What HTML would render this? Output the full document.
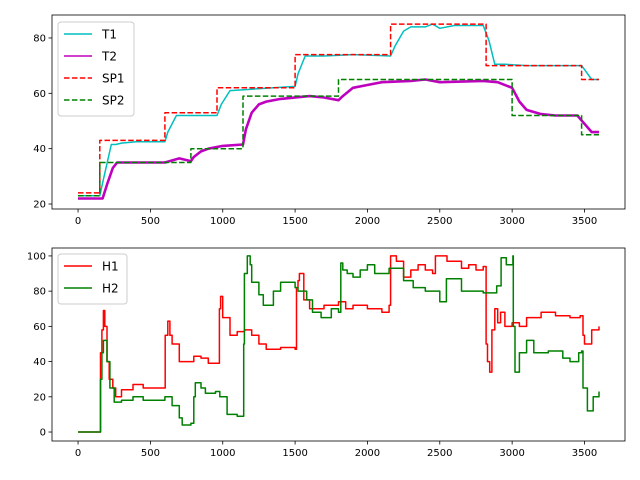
<!DOCTYPE html>
<html><head><meta charset="utf-8">
<style>
body{margin:0;background:#fff;}
svg{display:block;font-family:"DejaVu Sans","Liberation Sans",sans-serif;}
</style></head>
<body>
<svg id="fig" width="640" height="480" xmlns="http://www.w3.org/2000/svg">
<rect width="640" height="480" fill="#fff"/>
<g id="top"></g>
<g id="bot"></g>
</svg>
<script>
const xTicks=[0,500,1000,1500,2000,2500,3000,3500];
const topYTicks=[20,40,60,80];
const botYTicks=[0,20,40,60,80,100];
const sp1T=[0,150,600,960,1500,2160,2820,3480,3600];
const sp1V=[24,43,53,62,74,85,70,65,65];
const sp2T=[0,150,780,1140,1800,3000,3480,3600];
const sp2V=[23,35,40,59,65,52,45,45];
const t1T=[0,150,180,230,260,300,400,600,620,680,800,960,990,1050,1200,1500,1520,1570,1700,1900,2160,2190,2250,2300,2400,2450,2500,2600,2800,2840,2880,2950,3100,3300,3480,3550,3600];
const t1V=[23,23,30,41.5,41.5,42,42.5,42.5,46,52,52,52,56,61,61.5,62.5,67,73.5,73.5,74,73.5,77,82.5,84,84,85,83.5,84.5,84.5,79,70.5,70.5,70,70,70,65,65];
const t2T=[0,170,200,240,270,400,600,700,780,800,850,900,1000,1140,1160,1200,1250,1300,1400,1600,1700,1800,1830,1900,2000,2100,2300,2400,2500,2800,2900,3000,3050,3100,3200,3300,3450,3500,3550,3600];
const t2V=[22,22,27,33,35,35,35,36.5,35.5,37,39,40,41,41.5,47,53,56,57,58,59,58.5,57.5,59,62,63,64,64.5,65,64,64.5,64,62,57,54,52.5,52,52,49,46,46];
const h1T=[0,150,155,165,175,185,200,215,240,260,300,380,450,600,602,620,635,650,700,800,850,900,975,977,985,1000,1050,1100,1150,1200,1250,1300,1400,1500,1510,1520,1530,1560,1600,1700,1800,1850,1900,2000,2100,2150,2160,2200,2250,2300,2350,2400,2450,2470,2550,2650,2700,2750,2800,2820,2830,2845,2860,2880,2900,2920,2950,3000,3050,3100,3200,3300,3400,3470,3490,3500,3550,3600];
const h1V=[0,0,45,58,69,60,40,30,25,20,24,27,25,25,55,63,55,50,40,43,42,39,39,70,77,65,55,57,58,55,50,47,48,47,82,86,90,75,70,72,74,70,72,70,68,72,100,97,88,92,95,92,90,100,97,93,95,92,94,50,40,34,58,70,62,68,60,62,60,65,68,66,65,66,55,50,58,60];
const h2T=[0,150,155,165,175,200,220,250,300,380,450,500,600,650,700,720,780,800,810,850,880,950,980,1030,1100,1140,1145,1150,1170,1190,1200,1250,1280,1350,1400,1500,1520,1580,1620,1680,1750,1800,1816,1830,1860,1900,1950,2000,2050,2150,2250,2316,2400,2500,2546,2650,2800,2893,2924,2960,3005,3008,3020,3050,3100,3150,3250,3350,3400,3460,3480,3490,3520,3560,3600];
const h2V=[0,0,30,45,52,40,25,17,18,20,18,18,20,15,8,4,5,20,28,25,22,23,20,10,9,9,50,90,100,95,85,78,72,80,85,82,80,75,68,65,70,68,96,92,90,88,92,95,90,93,86,82,80,74,87,80,79,83,99,95,100,60,34,45,52,45,46,42,40,45,46,25,12,20,23];

const NS="http://www.w3.org/2000/svg";
function el(tag,attrs,parent){const e=document.createElementNS(NS,tag);for(const k in attrs)e.setAttribute(k,attrs[k]);parent.appendChild(e);return e;}
const L=52,R=625;
const xMin=-180,xMax=3780;
function X(t){return L+(t-xMin)/(xMax-xMin)*(R-L);}
function mkY(top,bot,vmin,vmax){return v=>bot-(v-vmin)/(vmax-vmin)*(bot-top);}
const yTop=mkY(15,209,18.2,88.3);
const yBot=mkY(248,441,-5.1,104.5);

function axes(g,top,bot,Y,yt){
  for(const t of xTicks){
    const x=X(t);
    const tk=el('line',{x1:x,x2:x,y1:bot,y2:bot+3.5,stroke:'#000','stroke-width':0.8},g);
    
    
    const tx=el('text',{x:x,y:bot+15,'font-size':10,'text-anchor':'middle',fill:'#000'},g);
    tx.textContent=t;
    
    
  }
  for(const v of yt){
    const y=Y(v);
    const tk=el('line',{x1:L-3.5,x2:L,y1:y,y2:y,stroke:'#000','stroke-width':0.8},g);
    
    
    const tx=el('text',{x:L-6,y:y+3.5,'font-size':10,'text-anchor':'end',fill:'#000'},g);
    tx.textContent=v;
    
    
  }
}
function line(g,T,V,Y,color,w,step,dash,name){
  let pts=[];
  for(let i=0;i<T.length;i++){
    if(step&&i>0)pts.push(X(T[i]).toFixed(1)+','+Y(V[i-1]).toFixed(1));
    pts.push(X(T[i]).toFixed(1)+','+Y(V[i]).toFixed(1));
  }
  const p=el('polyline',{points:pts.join(' '),fill:'none',stroke:color,'stroke-width':w,'stroke-linejoin':'round'},g);
  if(dash)p.setAttribute('stroke-dasharray',dash);
  
  
}
function frame(g,top,bot){
  const r=el('rect',{x:L,y:top,width:R-L,height:bot-top,fill:'none',stroke:'#000','stroke-width':0.8},g);
  
  
}
function legend(g,x,y,w,entries){
  const h=entries.length*22+6;
  const b=el('rect',{x:x,y:y,width:w,height:h,rx:3,fill:'#fff','fill-opacity':0.8,stroke:'#ccc','stroke-width':1},g);
  
  
  entries.forEach((e,i)=>{
    const cy=y+12+i*22;
    const ln=el('line',{x1:x+6,x2:x+34,y1:cy,y2:cy,stroke:e[1],'stroke-width':1.5},g);
    if(e[2])ln.setAttribute('stroke-dasharray','5.5,2.4');
    
    
    const t=el('text',{x:x+44,y:cy+4.5,'font-size':12,fill:'#000'},g);
    t.textContent=e[0];
    
    
  });
}
const gt=document.getElementById('top'),gb=document.getElementById('bot');
axes(gt,15,209,yTop,topYTicks);
line(gt,t1T,t1V,yTop,'#00bfbf',1.5,false,null,'t1-line');
line(gt,t2T,t2V,yTop,'#bf00bf',2.6,false,null,'t2-line');
line(gt,sp1T,sp1V,yTop,'#ff0000',1.5,true,'5.5,2.4','sp1-line');
line(gt,sp2T,sp2V,yTop,'#008000',1.5,true,'5.5,2.4','sp2-line');
frame(gt,15,209);
legend(gt,58,22,76,[['T1','#00bfbf',0],['T2','#bf00bf',0],['SP1','#ff0000',1],['SP2','#008000',1]]);
axes(gb,248,441,yBot,botYTicks);
line(gb,h1T,h1V,yBot,'#ff0000',1.5,true,null,'h1-line');
line(gb,h2T,h2V,yBot,'#008000',1.5,true,null,'h2-line');
frame(gb,248,441);
legend(gb,58,254,69,[['H1','#ff0000',0],['H2','#008000',0]]);
</script>
</body></html>
